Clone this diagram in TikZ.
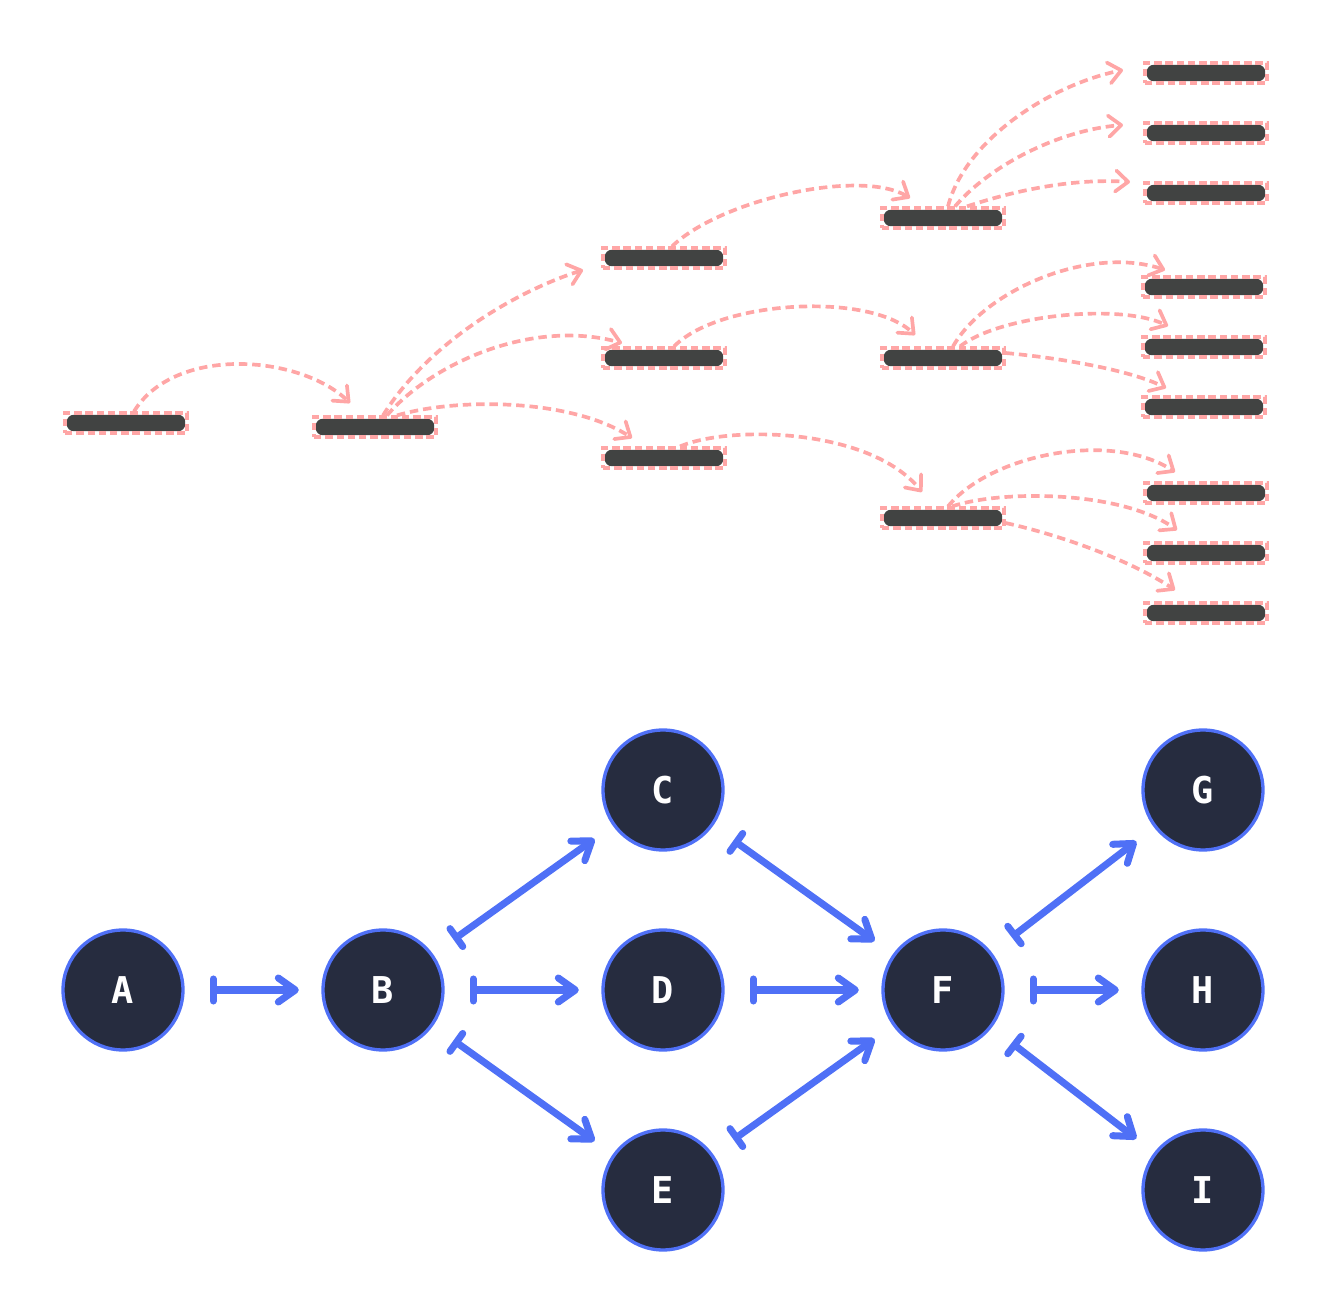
\documentclass[tikz,border=0pt]{standalone}
\usepackage{fontspec}
\usetikzlibrary{arrows.meta}
\usepackage{xcolor}

\newfontfamily\labelfont{DejaVu Sans Mono}

\definecolor{barfill}{HTML}{414342}
\definecolor{barpink}{HTML}{FFA6A6}
\definecolor{nodeblue}{HTML}{4F70F6}
\definecolor{nodefill}{HTML}{262C3F}

\tikzset{
  bar/.style={draw=barpink, dash pattern=on 4.2pt off 2.2pt, line width=1.8pt,
    minimum width=2.44cm, minimum height=0.4cm, inner sep=0pt,
    path picture={\fill[barfill, rounded corners=4pt]
      ([shift={(1pt,-1pt)}]path picture bounding box.north west) rectangle
      ([shift={(-1pt,1pt)}]path picture bounding box.south east);}},
  hop/.style={barpink, line width=2.1pt, dash pattern=on 4.8pt off 2.8pt,
    -{Straight Barb[length=2.5mm, width=4.2mm, round]}},
  state/.style={circle, draw=nodeblue, line width=1.9pt, fill=nodefill,
    minimum size=2.4cm, inner sep=0pt, text=white,
    font=\labelfont\bfseries\fontsize{21}{25}\selectfont},
  link/.style={nodeblue, line width=4pt, line cap=round,
    {Bar[width=4.4mm, round]}-{Straight Barb[length=3.4mm, width=4.8mm, round]},
    shorten <=0.5cm, shorten >=0.45cm}
}

\begin{document}
\begin{tikzpicture}[x=0.02cm, y=-0.02cm]
    \useasboundingbox (0,0) rectangle (1330,1310);

    % the bars, before
    \node[bar] (ba) at (126,423) {};
    \node[bar] (bb) at (375,427) {};
    \node[bar] (bc) at (664,258) {};
    \node[bar] (bd) at (664,358) {};
    \node[bar] (be) at (664,458) {};
    \node[bar] (bf1) at (943,218) {};
    \node[bar] (bf2) at (943,358) {};
    \node[bar] (bf3) at (943,518) {};
    \node[bar] (bg1) at (1206,73) {};
    \node[bar] (bg2) at (1206,133) {};
    \node[bar] (bg3) at (1206,193) {};
    \node[bar] (bh1) at (1204,287) {};
    \node[bar] (bh2) at (1204,347) {};
    \node[bar] (bh3) at (1204,407) {};
    \node[bar] (bi1) at (1206,493) {};
    \node[bar] (bi2) at (1206,553) {};
    \node[bar] (bi3) at (1206,613) {};

    \coordinate (tab) at (350,403);
    \coordinate (tbc) at (583,270);
    \coordinate (tbd) at (622,343);
    \coordinate (tbe) at (632,438);
    \coordinate (tcf) at (910,198);
    \coordinate (tdf) at (915,335);
    \coordinate (tef) at (922,492);
    \coordinate (tg1) at (1123,70);
    \coordinate (tg2) at (1123,125);
    \coordinate (tg3) at (1130,182);
    \coordinate (th1) at (1165,270);
    \coordinate (th2) at (1168,326);
    \coordinate (th3) at (1166,388);
    \coordinate (ti1) at (1175,472);
    \coordinate (ti2) at (1177,530);
    \coordinate (ti3) at (1175,590);

    \draw[hop] ([xshift=0.16cm]ba.north) .. controls (175,345) and (300,355) .. (tab);
    \draw[hop] ([xshift=0.16cm]bb.north) .. controls (430,340) and (520,290) .. (tbc);
    \draw[hop] ([xshift=0.24cm]bb.north) .. controls (430,365) and (530,318) .. (tbd);
    \draw[hop] ([xshift=0.44cm]bb.north) .. controls (455,398) and (570,398) .. (tbe);
    \draw[hop] ([xshift=0.16cm]bc.north) .. controls (720,200) and (860,168) .. (tcf);
    \draw[hop] ([xshift=0.2cm]bd.north) .. controls (720,300) and (870,292) .. (tdf);
    \draw[hop] ([xshift=0.32cm]be.north) .. controls (730,425) and (870,428) .. (tef);

    \draw[hop] ([xshift=0.1cm]bf1.north) .. controls (965,140) and (1050,85) .. (tg1);
    \draw[hop] ([xshift=0.24cm]bf1.north) .. controls (990,165) and (1060,130) .. (tg2);
    \draw[hop] ([xshift=0.48cm]bf1.north) .. controls (1010,192) and (1070,178) .. (tg3);

    \draw[hop] ([xshift=0.2cm]bf2.north) .. controls (985,290) and (1090,245) .. (th1);
    \draw[hop] ([xshift=0.34cm]bf2.north) .. controls (1000,315) and (1120,303) .. (th2);
    \draw[hop] ([yshift=0.1cm]bf2.east) .. controls (1060,358) and (1130,370) .. (th3);

    \draw[hop] ([xshift=0.1cm]bf3.north) .. controls (990,455) and (1110,430) .. (ti1);
    \draw[hop] ([xshift=0.18cm]bf3.north) .. controls (1000,490) and (1120,490) .. (ti2);
    \draw[hop] ([yshift=-0.1cm]bf3.east) .. controls (1060,535) and (1130,560) .. (ti3);

    % the graph, after
    \node[state] (a) at (123,990) {A};
    \node[state] (b) at (383,990) {B};
    \node[state] (c) at (663,790) {C};
    \node[state] (d) at (663,990) {D};
    \node[state] (e) at (663,1190) {E};
    \node[state] (f) at (943,990) {F};
    \node[state] (g) at (1203,790) {G};
    \node[state] (h) at (1203,990) {H};
    \node[state] (i) at (1203,1190) {I};

    \draw[link] (a) -- (b);
    \draw[link] (b) -- (c);
    \draw[link] (b) -- (d);
    \draw[link] (b) -- (e);
    \draw[link] (c) -- (f);
    \draw[link] (d) -- (f);
    \draw[link] (e) -- (f);
    \draw[link] (f) -- (g);
    \draw[link] (f) -- (h);
    \draw[link] (f) -- (i);
\end{tikzpicture}
\end{document}
